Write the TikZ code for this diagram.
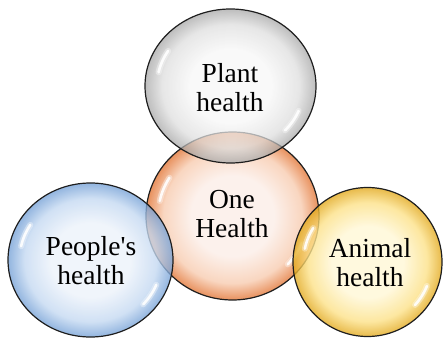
\documentclass[tikz,border=0pt]{standalone}
\usepackage{fontspec}
\setmainfont{Liberation Serif}
\usetikzlibrary{calc}

% palette: centre, middle and rim colour of each glass ball
\definecolor{plantC}{HTML}{F6F6F6}
\definecolor{plantM}{HTML}{DDDDDD}
\definecolor{plantE}{HTML}{A4A4A4}
\definecolor{oneC}{HTML}{FCF1EC}
\definecolor{oneM}{HTML}{F9D6C0}
\definecolor{oneE}{HTML}{E8915E}
\definecolor{peopleC}{HTML}{ECF2FA}
\definecolor{peopleM}{HTML}{C3D8F1}
\definecolor{peopleE}{HTML}{74A0D6}
\definecolor{animalC}{HTML}{FFF7D6}
\definecolor{animalM}{HTML}{FCE188}
\definecolor{animalE}{HTML}{E2A91E}
\definecolor{rim}{HTML}{1E1E1E}

\pgfdeclareradialshading{plantball}{\pgfpoint{0bp}{0bp}}{color(0bp)=(plantC); color(12bp)=(plantC); color(20bp)=(plantM); color(25bp)=(plantE); color(50bp)=(plantE)}
\pgfdeclareradialshading{oneball}{\pgfpoint{0bp}{0bp}}{color(0bp)=(oneC); color(12bp)=(oneC); color(20bp)=(oneM); color(25bp)=(oneE); color(50bp)=(oneE)}
\pgfdeclareradialshading{peopleball}{\pgfpoint{0bp}{0bp}}{color(0bp)=(peopleC); color(12bp)=(peopleC); color(20bp)=(peopleM); color(25bp)=(peopleE); color(50bp)=(peopleE)}
\pgfdeclareradialshading{animalball}{\pgfpoint{0bp}{0bp}}{color(0bp)=(animalC); color(12bp)=(animalC); color(20bp)=(animalM); color(25bp)=(animalE); color(50bp)=(animalE)}

\tikzset{
  label text/.style={align=center, font=\fontsize{27.5}{29}\selectfont, text=black, inner sep=0pt},
  gloss/.style={white, line cap=round, line width=2.6pt, opacity=0.9},
  soft gloss/.style={white, line cap=round, line width=6pt, opacity=0.35},
}

% one glossy streak on the ball at (#1,#2), radii #3 #4,
% from angle #5 to #6 (counted counter-clockwise as seen on the page)
\newcommand{\streak}[6]{%
  \draw[soft gloss] plot[smooth, domain=#5:#6, samples=9]
    ({#1+0.86*#3*cos(\x)}, {#2-0.86*#4*sin(\x)});
  \draw[gloss] plot[smooth, domain=#5:#6, samples=9]
    ({#1+0.86*#3*cos(\x)}, {#2-0.86*#4*sin(\x)});}

% #1 centre x, #2 centre y, #3 x radius, #4 y radius, #5 shading, #6 opacity
\newcommand{\glassball}[6]{%
  \shadedraw[shading=#5, fill opacity=#6, draw=rim, line width=1.2pt]
    (#1,#2) ellipse [x radius=#3pt, y radius=#4pt];
  \streak{#1}{#2}{#3}{#4}{148}{168}
  \streak{#1}{#2}{#3}{#4}{-42}{-22}}

\begin{document}
\begin{tikzpicture}[x=1pt, y=-1pt]
  \useasboundingbox (0,0) rectangle (444,339);

  % central ball first, the three others overlap it
  \glassball{232.5}{216}{86.5}{84}{oneball}{1}
  \glassball{230.5}{86}{85.5}{77}{plantball}{0.72}
  \glassball{90.5}{260}{82.5}{77}{peopleball}{0.78}
  \glassball{367.5}{262}{74.5}{74.5}{animalball}{0.8}

  \node[label text] (one)    at (232,214) {One\\Health};
  \node[label text] (plant)  at (230,88)  {Plant\\health};
  \node[label text] (people) at (91,261)  {People\textquotesingle s\\health};
  \node[label text] (animal) at (370,263) {Animal\\health};
\end{tikzpicture}
\end{document}
